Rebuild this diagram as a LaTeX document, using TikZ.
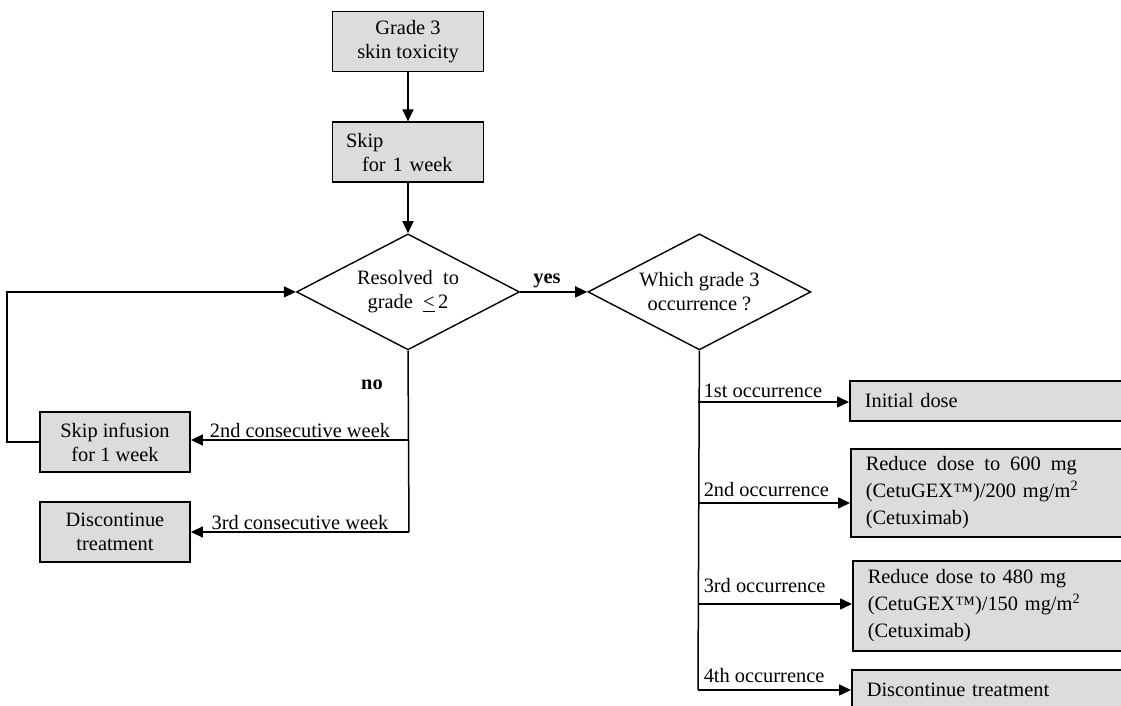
\documentclass[tikz,border=0pt]{standalone}
\usepackage{fontspec}
\setmainfont{Liberation Serif}
\usetikzlibrary{shapes.geometric,arrows.meta,positioning,calc}
\definecolor{boxgray}{RGB}{220,220,220}

\begin{document}
\begin{tikzpicture}[
            x=0.5pt, y=-0.5pt,
            font=\fontsize{10.2}{12}\selectfont,
            box/.style={rectangle, draw, line width=0.9pt, fill=boxgray, minimum width=75.5pt, minimum height=30pt, align=center, inner sep=2pt},
            dosebox/.style={rectangle, draw, line width=0.8pt, fill=boxgray, anchor=west, minimum width=160pt, text width=145pt, align=left, inner xsep=3pt, font=\fontsize{10.2}{13.5}\selectfont},
            decision/.style={diamond, draw, line width=0.7pt, aspect=1.9, minimum width=111.5pt, minimum height=58pt, inner sep=0pt, align=center},
            arrow/.style={-{Triangle[length=6pt,width=5.5pt]}, line width=0.75pt},
            lbl/.style={inner sep=1pt}
        ]
            \useasboundingbox (0,0) rectangle (1121,706);
            \clip (0,0) rectangle (1121,706);

            % main column
            \node[box] (grade) at (408,41.5) {Grade 3\\skin toxicity};
            \node[box, below=24.5pt of grade, align=left, text width=62pt, inner xsep=5.5pt] (skip) {Skip\\\hspace*{8pt}for 1 week};
            \node[decision, below=25pt of skip] (resolved) {Resolved\ \ to\\grade\ \ \underline{<}\,2};
            \node[decision, right=33.5pt of resolved, aspect=2] (which) {Which grade 3\\occurrence\ ?};

            % left branch
            \node[box, minimum width=75pt] (skipinf) at (115,442) {Skip infusion\\for 1 week};
            \node[box, minimum width=75pt] (discont) at (115,532) {Discontinue\\treatment};

            % right branch
            \node[dosebox, minimum height=20pt] (dose1) at (849,401) {Initial dose};
            \node[dosebox, minimum height=44pt] (dose2) at (850,493) {Reduce\hspace{5pt}dose\hspace{5pt}to\hspace{5pt}600\hspace{5pt}mg\\(CetuGEX™)/200 mg/m\textsuperscript{2}\\(Cetuximab)};
            \node[dosebox, minimum height=45pt] (dose3) at (852,606) {Reduce dose to 480 mg\\(CetuGEX™)/150 mg/m\textsuperscript{2}\\(Cetuximab)};
            \node[dosebox, minimum height=20pt] (dose4) at (851,690) {Discontinue treatment};

            \coordinate (wk2) at (409,440);
            \coordinate (wk3) at (409,532);
            \coordinate (occ1) at (698,402);
            \coordinate (occ2) at (698,503);
            \coordinate (occ3) at (698,604);
            \coordinate (occ4) at (698,690);

            \draw[arrow] (grade) -- (skip);
            \draw[arrow] (skip) -- (resolved);
            \draw[arrow] (resolved) -- node[above, pos=0.4, inner sep=1.5pt, font=\fontsize{10.2}{12}\bfseries] {yes} (which);

            \draw[line width=0.75pt] (resolved.south) -- node[pos=0.19, left=9pt, font=\fontsize{10.2}{12}\bfseries] {no} (wk3);
            \draw[arrow] (wk2) -- node[above, lbl] {2nd consecutive week} (wk2 -| skipinf.east);
            \draw[arrow] (wk3) -- node[above, lbl] {3rd consecutive week} (wk3 -| discont.east);
            \draw[arrow] (skipinf.west) -- ++(-32,0) |- (resolved.west);

            \draw[line width=0.75pt] (which.south) -- (occ4);
            \draw[arrow] (occ1) -- node[pos=0, anchor=south west, inner xsep=2.5pt, inner ysep=2pt] {1st occurrence} (occ1 -| dose1.west);
            \draw[arrow] (occ2) -- node[pos=0, anchor=south west, inner xsep=2.5pt, inner ysep=3pt] {2nd occurrence} (occ2 -| dose2.west);
            \draw[arrow] (occ3) -- node[pos=0, anchor=south west, inner xsep=2.5pt, inner ysep=5.5pt] {3rd occurrence} (occ3 -| dose3.west);
            \draw[arrow] (occ4) -- node[pos=0, anchor=south west, inner xsep=2.5pt, inner ysep=3.5pt] {4th occurrence} (occ4 -| dose4.west);
        \end{tikzpicture}
\end{document}
